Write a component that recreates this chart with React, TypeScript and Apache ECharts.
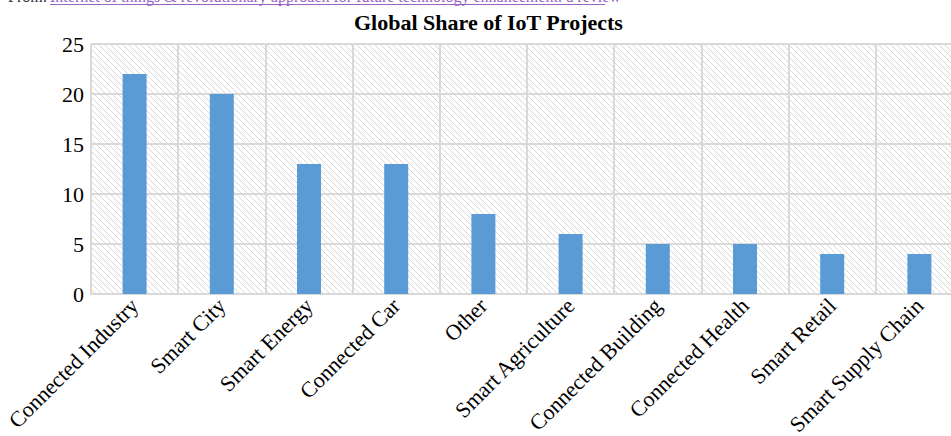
import React, { useEffect, useRef } from "react";
import * as echarts from "echarts";

const categories = [
  "Connected Industry",
  "Smart City",
  "Smart Energy",
  "Connected Car",
  "Other",
  "Smart Agriculture",
  "Connected Building",
  "Connected Health",
  "Smart Retail",
  "Smart Supply Chain",
];
const values = [22, 20, 13, 13, 8, 6, 5, 5, 4, 4];
const yMin = 0;
const yMax = 25;
const yStep = 5;

const titleText = "Global Share of IoT Projects";
const fromLabel = "From:";
const linkText =
  "Internet of things & revolutionary approach for future technology enhancement: a review";

const hatchSvg =
  "<svg xmlns='http://www.w3.org/2000/svg' width='6' height='6'>" +
  "<rect width='6' height='6' fill='white'/>" +
  "<path d='M-1,-1 L7,7 M-1,5 L1,7 M5,-1 L7,1' stroke='#d8d8d8' stroke-width='1'/>" +
  "</svg>";
const hatchUrl = "data:image/svg+xml;charset=utf-8," + encodeURIComponent(hatchSvg);

const serif = "'Liberation Serif', 'Times New Roman', serif";

export default function App() {
  const ref = useRef<HTMLDivElement>(null);
  useEffect(() => {
    if (!ref.current) return;
    const chart = echarts.init(ref.current, undefined, { renderer: "svg" });
    chart.setOption({
      animation: false,
      backgroundColor: "#ffffff",
      title: {
        text: titleText,
        left: 349,
        top: 6,
        textStyle: {
          fontFamily: serif,
          fontSize: 22,
          fontWeight: "bold",
          color: "#000",
        },
      },
      graphic: [
        {
          type: "text",
          left: 8,
          top: -12,
          style: {
            text: fromLabel,
            font: "16px " + serif,
            fill: "#333",
          },
        },
        {
          type: "text",
          left: 50,
          top: -12,
          style: {
            text: linkText,
            font: "16px " + serif,
            fill: "#9a63c6",
          },
        },
        {
          type: "line",
          shape: { x1: 50, y1: 4.5, x2: 605, y2: 4.5 },
          style: { stroke: "#9a63c6", lineWidth: 1 },
        },
      ],
      grid: {
        left: 91,
        top: 44,
        width: 872,
        height: 250,
        show: true,
        borderWidth: 0,
        outerBoundsMode: "none",
        containLabel: false,
        backgroundColor: {
          image: hatchUrl,
          repeat: "repeat",
          imageWidth: 6,
          imageHeight: 6,
        },
      },
      xAxis: {
        type: "category",
        data: categories,
        boundaryGap: true,
        axisLine: { show: true, lineStyle: { color: "#d9d9d9", width: 2 } },
        axisTick: { show: false },
        splitLine: { show: true, lineStyle: { color: "#d9d9d9", width: 2 } },
        axisLabel: {
          interval: 0,
          rotate: 45,
          margin: 8,
          fontFamily: serif,
          fontSize: 22,
          color: "#000",
        },
      },
      yAxis: {
        type: "value",
        min: yMin,
        max: yMax,
        interval: yStep,
        axisLine: { show: false },
        axisTick: { show: false },
        splitLine: { show: true, lineStyle: { color: "#d9d9d9", width: 2 } },
        axisLabel: {
          margin: 7,
          fontFamily: serif,
          fontSize: 22,
          color: "#000",
        },
      },
      series: [
        {
          type: "bar",
          data: values,
          barWidth: 24,
          itemStyle: { color: "#5b9bd5" },
        },
      ],
    });
    return () => chart.dispose();
  }, []);
  return (
    <div
      ref={ref}
      style={{ position: "fixed", left: 0, top: 0, width: 951, height: 436 }}
    />
  );
}
